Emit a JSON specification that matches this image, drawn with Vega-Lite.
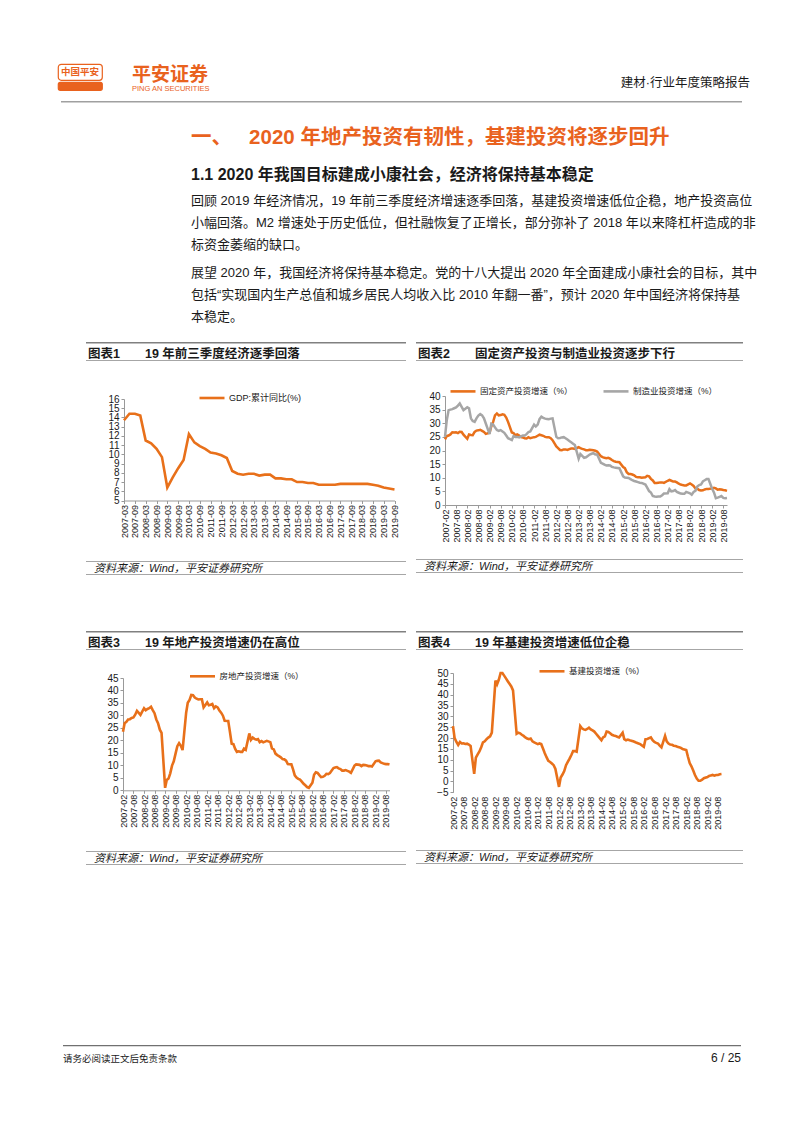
{
"$schema": "https://vega.github.io/schema/vega-lite/v6.json",
"background": "white",
"padding": {"left": 57, "top": 63, "right": 0, "bottom": 0},
"spacing": 0,
"resolve": {"scale": {"color": "independent"}, "legend": {"color": "independent"}},
"config": {
 "view": {"stroke": null},
 "font": "Liberation Sans, Noto Sans CJK SC, sans-serif",
 "concat": {"spacing": 0},
 "title": {"anchor": "start", "frame": "group", "orient": "bottom", "color": "#1a1a1a", "fontWeight": "normal", "offset": 0, "subtitlePadding": 0},
 "axis": {"grid": false, "domainColor": "#999999", "tickColor": "#999999", "tickSize": 3, "labelColor": "#1a1a1a", "labelFont": "Liberation Sans", "labelFlush": false, "labelOverlap": false, "labelBound": false},
 "legend": {"orient": "none", "direction": "horizontal", "symbolType": "stroke", "symbolStrokeWidth": 2.6, "symbolSize": 625, "labelFontSize": 8.5, "labelOffset": 3, "padding": 0, "columnPadding": 25, "labelColor": "#1a1a1a"}
},
"vconcat": [
 {"hconcat": [
   {"vconcat": [
     {"width": 44, "height": 16, "view": {"stroke": "#E9621E", "strokeWidth": 1.2, "fill": "white", "cornerRadius": 3},
      "data": {"values": [{"t": "中国平安"}]},
      "mark": {"type": "text", "color": "#E9621E", "fontSize": 9.5, "fontWeight": "bold", "font": "Noto Sans CJK SC"},
      "encoding": {"text": {"field": "t"}}},
     {"width": 44, "height": 8, "view": {"fill": "#E9621E", "stroke": "#E9621E", "strokeWidth": 1.2, "cornerRadius": 2}, "data": {"values": []}, "mark": "point"}
   ]},
   {"width": 100, "height": 1, "data": {"values": []}, "mark": "point",
    "title": {"text": "平安证券", "subtitle": "PING AN SECURITIES", "fontSize": 19, "fontWeight": "bold", "color": "#E9621E", "subtitleFontSize": 7.5, "subtitleColor": "#E9621E", "dx": 29, "offset": 1, "subtitlePadding": 0}},
   {"width": 540, "height": 1, "data": {"values": []}, "mark": "point",
    "title": {"text": "建材·行业年度策略报告", "anchor": "end", "fontSize": 12.5, "offset": 12, "color": "#1a1a1a"}}
 ]},
 {"width": 1, "height": 8, "data": {"values": []}, "mark": "point"},
 {"hconcat": [
   {"width": 3, "height": 1, "data": {"values": []}, "mark": "point"},
   {"width": 681, "height": 1.5, "view": {"fill": "#a0a0a0"}, "data": {"values": []}, "mark": "point"}
 ]},
 {"width": 680, "height": 1, "data": {"values": []}, "mark": "point",
  "title": {"text": "一、\u00a0\u00a0\u00a02020 年地产投资有韧性，基建投资将逐步回升", "subtitle": "1.1 2020 年我国目标建成小康社会，经济将保持基本稳定", "fontSize": 20.5, "fontWeight": "bold", "color": "#E9621E", "subtitleFontSize": 16, "subtitleFontWeight": "bold", "subtitleColor": "#1a1a1a", "subtitlePadding": 18, "offset": 24, "dx": 133}},
 {"width": 680, "height": 1, "data": {"values": []}, "mark": "point",
  "title": {"text": ["回顾 2019 年经济情况，19 年前三季度经济增速逐季回落，基建投资增速低位企稳，地产投资高位", "小幅回落。M2 增速处于历史低位，但社融恢复了正增长，部分弥补了 2018 年以来降杠杆造成的非", "标资金萎缩的缺口。"], "fontSize": 13, "lineHeight": 22, "offset": 11, "dx": 133, "color": "#1a1a1a"}},
 {"width": 680, "height": 1, "data": {"values": []}, "mark": "point",
  "title": {"text": ["展望 2020 年，我国经济将保持基本稳定。党的十八大提出 2020 年全面建成小康社会的目标，其中", "包括“实现国内生产总值和城乡居民人均收入比 2010 年翻一番”，预计 2020 年中国经济将保持基", "本稳定。"], "fontSize": 13, "lineHeight": 22, "offset": 14, "dx": 133, "color": "#1a1a1a"}},
 {"width": 1, "height": 17.5, "data": {"values": []}, "mark": "point"},
 {"resolve": {"scale": {"color": "independent"}, "legend": {"color": "independent"}},
  "hconcat": [
   {"width": 28, "height": 1, "data": {"values": []}, "mark": "point"},
   {"resolve": {"scale": {"color": "independent"}, "legend": {"color": "independent"}},
    "vconcat": [
     {"width": 320, "height": 1.5, "view": {"fill": "#808080"}, "data": {"values": []}, "mark": "point",
      "title": {"text": "图表1\u3000\u300019 年前三季度经济逐季回落", "fontSize": 12.5, "fontWeight": "bold", "offset": 4, "dx": 2}},
     {"width": 320, "height": 1, "view": {"fill": "#a6a6a6"}, "data": {"values": []}, "mark": "point"},
     {"width": 1, "height": 23, "data": {"values": []}, "mark": "point"},
     {"hconcat": [
      {"width": 1, "height": 1, "data": {"values": []}, "mark": "point"},
      {
       "width": 270.5, "height": 101.5,
       "data": {"values": [{"d":"2007-03","v":13.7},{"d":"2007-06","v":14.4},{"d":"2007-09","v":14.4},{"d":"2007-12","v":14.2},{"d":"2008-03","v":11.5},{"d":"2008-06","v":11.2},{"d":"2008-09","v":10.6},{"d":"2008-12","v":9.7},{"d":"2009-03","v":6.4},{"d":"2009-06","v":7.5},{"d":"2009-09","v":8.5},{"d":"2009-12","v":9.4},{"d":"2010-03","v":12.2},{"d":"2010-06","v":11.3},{"d":"2010-09","v":10.9},{"d":"2010-12","v":10.6},{"d":"2011-03","v":10.2},{"d":"2011-06","v":10.1},{"d":"2011-09","v":9.9},{"d":"2011-12","v":9.6},{"d":"2012-03","v":8.2},{"d":"2012-06","v":7.9},{"d":"2012-09","v":7.8},{"d":"2012-12","v":7.9},{"d":"2013-03","v":7.9},{"d":"2013-06","v":7.7},{"d":"2013-09","v":7.8},{"d":"2013-12","v":7.8},{"d":"2014-03","v":7.4},{"d":"2014-06","v":7.4},{"d":"2014-09","v":7.3},{"d":"2014-12","v":7.3},{"d":"2015-03","v":7.0},{"d":"2015-06","v":7.0},{"d":"2015-09","v":6.9},{"d":"2015-12","v":6.9},{"d":"2016-03","v":6.7},{"d":"2016-06","v":6.7},{"d":"2016-09","v":6.7},{"d":"2016-12","v":6.7},{"d":"2017-03","v":6.8},{"d":"2017-06","v":6.8},{"d":"2017-09","v":6.8},{"d":"2017-12","v":6.8},{"d":"2018-03","v":6.8},{"d":"2018-06","v":6.8},{"d":"2018-09","v":6.7},{"d":"2018-12","v":6.6},{"d":"2019-03","v":6.4},{"d":"2019-06","v":6.3},{"d":"2019-09","v":6.2}]},
       "mark": {"type": "line", "strokeWidth": 2.6},
       "encoding": {
         "x": {"field": "d", "type": "temporal", "axis": {"title": null, "values": [{"year":2007,"month":3},{"year":2007,"month":9},{"year":2008,"month":3},{"year":2008,"month":9},{"year":2009,"month":3},{"year":2009,"month":9},{"year":2010,"month":3},{"year":2010,"month":9},{"year":2011,"month":3},{"year":2011,"month":9},{"year":2012,"month":3},{"year":2012,"month":9},{"year":2013,"month":3},{"year":2013,"month":9},{"year":2014,"month":3},{"year":2014,"month":9},{"year":2015,"month":3},{"year":2015,"month":9},{"year":2016,"month":3},{"year":2016,"month":9},{"year":2017,"month":3},{"year":2017,"month":9},{"year":2018,"month":3},{"year":2018,"month":9},{"year":2019,"month":3},{"year":2019,"month":9}], "format": "%Y-%m", "labelAngle": -90, "labelFontSize": 9, "labelPadding": 1, "minExtent": 60, "maxExtent": 60}},
         "y": {"field": "v", "type": "quantitative", "scale": {"domain": [5, 16], "nice": false, "zero": false}, "axis": {"title": null, "values": [5,6,7,8,9,10,11,12,13,14,15,16], "labelFontSize": 10, "labelPadding": 2, "minExtent": 37, "maxExtent": 37}},
         "color": {"datum": "GDP:累计同比(%)", "scale": {"range": ["#E8701A"]}, "legend": {"title": null, "legendX": 112, "legendY": -15, "labelFontSize": 9}}
       }
      }]},
     {"width": 320, "height": 1, "view": {"fill": "#a6a6a6"}, "data": {"values": []}, "mark": "point",
      "title": {"text": "资料来源：Wind，平安证券研究所", "fontSize": 11, "fontStyle": "italic", "offset": 1, "dx": 8}},
     {"width": 320, "height": 1, "view": {"fill": "#a6a6a6"}, "data": {"values": []}, "mark": "point"}
   ]},
   {"width": 10, "height": 1, "data": {"values": []}, "mark": "point"},
   {"resolve": {"scale": {"color": "independent"}, "legend": {"color": "independent"}},
    "vconcat": [
     {"width": 327, "height": 1.5, "view": {"fill": "#808080"}, "data": {"values": []}, "mark": "point",
      "title": {"text": "图表2\u3000\u3000固定资产投资与制造业投资逐步下行", "fontSize": 12.5, "fontWeight": "bold", "offset": 4, "dx": 2}},
     {"width": 327, "height": 1, "view": {"fill": "#a6a6a6"}, "data": {"values": []}, "mark": "point"},
     {"width": 1, "height": 16, "data": {"values": []}, "mark": "point"},
     {"hconcat": [
      {"width": 1, "height": 1, "data": {"values": []}, "mark": "point"},
      {
       "width": 282, "height": 109,
       "encoding": {
         "x": {"field": "d", "type": "temporal", "axis": {"title": null, "values": [{"year":2007,"month":2},{"year":2007,"month":8},{"year":2008,"month":2},{"year":2008,"month":8},{"year":2009,"month":2},{"year":2009,"month":8},{"year":2010,"month":2},{"year":2010,"month":8},{"year":2011,"month":2},{"year":2011,"month":8},{"year":2012,"month":2},{"year":2012,"month":8},{"year":2013,"month":2},{"year":2013,"month":8},{"year":2014,"month":2},{"year":2014,"month":8},{"year":2015,"month":2},{"year":2015,"month":8},{"year":2016,"month":2},{"year":2016,"month":8},{"year":2017,"month":2},{"year":2017,"month":8},{"year":2018,"month":2},{"year":2018,"month":8},{"year":2019,"month":2},{"year":2019,"month":8}], "format": "%Y-%m", "labelAngle": -90, "labelFontSize": 9, "labelPadding": 1, "minExtent": 54, "maxExtent": 54}},
         "y": {"field": "v", "type": "quantitative", "scale": {"domain": [0, 40], "nice": false}, "axis": {"title": null, "values": [0,5,10,15,20,25,30,35,40], "labelFontSize": 10, "labelPadding": 2, "minExtent": 28, "maxExtent": 28}}
       },
       "layer": [
         {"data": {"values": [{"d":"2007-02","v":24.1},{"d":"2007-03","v":25.3},{"d":"2007-04","v":25.5},{"d":"2007-05","v":25.9},{"d":"2007-06","v":26.7},{"d":"2007-07","v":26.6},{"d":"2007-08","v":26.7},{"d":"2007-09","v":26.4},{"d":"2007-10","v":26.9},{"d":"2007-11","v":26.8},{"d":"2007-12","v":25.8},{"d":"2008-02","v":24.3},{"d":"2008-03","v":25.9},{"d":"2008-04","v":25.7},{"d":"2008-05","v":25.6},{"d":"2008-06","v":26.8},{"d":"2008-07","v":27.3},{"d":"2008-08","v":27.4},{"d":"2008-09","v":27.6},{"d":"2008-10","v":27.2},{"d":"2008-11","v":26.8},{"d":"2008-12","v":26.1},{"d":"2009-02","v":26.5},{"d":"2009-03","v":28.8},{"d":"2009-04","v":30.5},{"d":"2009-05","v":32.9},{"d":"2009-06","v":33.6},{"d":"2009-07","v":32.9},{"d":"2009-08","v":33.0},{"d":"2009-09","v":33.3},{"d":"2009-10","v":33.1},{"d":"2009-11","v":32.1},{"d":"2009-12","v":30.5},{"d":"2010-02","v":26.6},{"d":"2010-03","v":26.4},{"d":"2010-04","v":25.6},{"d":"2010-05","v":25.9},{"d":"2010-06","v":25.5},{"d":"2010-07","v":24.9},{"d":"2010-08","v":24.8},{"d":"2010-09","v":24.5},{"d":"2010-10","v":24.4},{"d":"2010-11","v":24.9},{"d":"2010-12","v":24.5},{"d":"2011-02","v":24.9},{"d":"2011-03","v":25.0},{"d":"2011-04","v":25.4},{"d":"2011-05","v":25.8},{"d":"2011-06","v":25.6},{"d":"2011-07","v":25.4},{"d":"2011-08","v":25.0},{"d":"2011-09","v":24.9},{"d":"2011-10","v":24.9},{"d":"2011-11","v":24.5},{"d":"2011-12","v":23.8},{"d":"2012-02","v":21.5},{"d":"2012-03","v":20.9},{"d":"2012-04","v":20.2},{"d":"2012-05","v":20.1},{"d":"2012-06","v":20.4},{"d":"2012-07","v":20.4},{"d":"2012-08","v":20.2},{"d":"2012-09","v":20.5},{"d":"2012-10","v":20.7},{"d":"2012-11","v":20.7},{"d":"2012-12","v":20.6},{"d":"2013-02","v":21.2},{"d":"2013-03","v":20.9},{"d":"2013-04","v":20.6},{"d":"2013-05","v":20.4},{"d":"2013-06","v":20.1},{"d":"2013-07","v":20.1},{"d":"2013-08","v":20.3},{"d":"2013-09","v":20.2},{"d":"2013-10","v":20.1},{"d":"2013-11","v":19.9},{"d":"2013-12","v":19.6},{"d":"2014-02","v":17.9},{"d":"2014-03","v":17.6},{"d":"2014-04","v":17.3},{"d":"2014-05","v":17.2},{"d":"2014-06","v":17.3},{"d":"2014-07","v":17.0},{"d":"2014-08","v":16.5},{"d":"2014-09","v":16.1},{"d":"2014-10","v":15.9},{"d":"2014-11","v":15.8},{"d":"2014-12","v":15.7},{"d":"2015-02","v":13.9},{"d":"2015-03","v":13.5},{"d":"2015-04","v":12.0},{"d":"2015-05","v":11.4},{"d":"2015-06","v":11.4},{"d":"2015-07","v":11.2},{"d":"2015-08","v":10.9},{"d":"2015-09","v":10.3},{"d":"2015-10","v":10.2},{"d":"2015-11","v":10.2},{"d":"2015-12","v":10.0},{"d":"2016-02","v":10.2},{"d":"2016-03","v":10.7},{"d":"2016-04","v":10.5},{"d":"2016-05","v":9.6},{"d":"2016-06","v":9.0},{"d":"2016-07","v":8.1},{"d":"2016-08","v":8.1},{"d":"2016-09","v":8.2},{"d":"2016-10","v":8.3},{"d":"2016-11","v":8.3},{"d":"2016-12","v":8.1},{"d":"2017-02","v":8.9},{"d":"2017-03","v":9.2},{"d":"2017-04","v":8.9},{"d":"2017-05","v":8.6},{"d":"2017-06","v":8.6},{"d":"2017-07","v":8.3},{"d":"2017-08","v":7.8},{"d":"2017-09","v":7.5},{"d":"2017-10","v":7.3},{"d":"2017-11","v":7.2},{"d":"2017-12","v":7.2},{"d":"2018-02","v":7.9},{"d":"2018-03","v":7.5},{"d":"2018-04","v":7.0},{"d":"2018-05","v":6.1},{"d":"2018-06","v":6.0},{"d":"2018-07","v":5.5},{"d":"2018-08","v":5.3},{"d":"2018-09","v":5.4},{"d":"2018-10","v":5.7},{"d":"2018-11","v":5.9},{"d":"2018-12","v":5.9},{"d":"2019-02","v":6.1},{"d":"2019-03","v":6.3},{"d":"2019-04","v":6.1},{"d":"2019-05","v":5.6},{"d":"2019-06","v":5.8},{"d":"2019-07","v":5.7},{"d":"2019-08","v":5.5},{"d":"2019-09","v":5.4},{"d":"2019-10","v":5.2}]},
          "mark": {"type": "line", "strokeWidth": 2.5},
          "encoding": {"color": {"datum": "固定资产投资增速（%）", "scale": {"domain": ["固定资产投资增速（%）", "制造业投资增速（%）"], "range": ["#E8701A", "#A6A6A6"]}, "legend": {"title": null, "legendX": 33, "legendY": -19}}}},
         {"data": {"values": [{"d":"2007-02","v":25.0},{"d":"2007-03","v":31.0},{"d":"2007-04","v":34.8},{"d":"2007-05","v":35.0},{"d":"2007-06","v":35.2},{"d":"2007-07","v":35.5},{"d":"2007-08","v":35.8},{"d":"2007-09","v":36.5},{"d":"2007-10","v":37.3},{"d":"2007-11","v":36.0},{"d":"2007-12","v":34.8},{"d":"2008-02","v":35.9},{"d":"2008-03","v":35.5},{"d":"2008-04","v":31.8},{"d":"2008-05","v":30.8},{"d":"2008-06","v":30.5},{"d":"2008-07","v":31.8},{"d":"2008-08","v":32.8},{"d":"2008-09","v":33.4},{"d":"2008-10","v":32.9},{"d":"2008-11","v":31.8},{"d":"2008-12","v":29.9},{"d":"2009-02","v":26.0},{"d":"2009-03","v":29.8},{"d":"2009-04","v":29.5},{"d":"2009-05","v":28.5},{"d":"2009-06","v":27.5},{"d":"2009-07","v":27.2},{"d":"2009-08","v":27.5},{"d":"2009-09","v":27.0},{"d":"2009-10","v":26.5},{"d":"2009-11","v":25.5},{"d":"2009-12","v":24.5},{"d":"2010-02","v":23.8},{"d":"2010-03","v":25.3},{"d":"2010-04","v":25.0},{"d":"2010-05","v":25.0},{"d":"2010-06","v":24.8},{"d":"2010-07","v":25.2},{"d":"2010-08","v":25.5},{"d":"2010-09","v":25.5},{"d":"2010-10","v":26.0},{"d":"2010-11","v":26.8},{"d":"2010-12","v":27.0},{"d":"2011-02","v":29.5},{"d":"2011-03","v":28.8},{"d":"2011-04","v":29.5},{"d":"2011-05","v":31.5},{"d":"2011-06","v":32.4},{"d":"2011-07","v":32.0},{"d":"2011-08","v":31.7},{"d":"2011-09","v":31.6},{"d":"2011-10","v":31.5},{"d":"2011-11","v":31.7},{"d":"2011-12","v":31.8},{"d":"2012-02","v":25.0},{"d":"2012-03","v":24.5},{"d":"2012-04","v":24.6},{"d":"2012-05","v":24.8},{"d":"2012-06","v":24.9},{"d":"2012-07","v":24.5},{"d":"2012-08","v":24.0},{"d":"2012-09","v":23.5},{"d":"2012-10","v":23.0},{"d":"2012-11","v":22.5},{"d":"2012-12","v":22.0},{"d":"2013-02","v":17.0},{"d":"2013-03","v":18.7},{"d":"2013-04","v":18.0},{"d":"2013-05","v":17.3},{"d":"2013-06","v":17.5},{"d":"2013-07","v":18.0},{"d":"2013-08","v":18.5},{"d":"2013-09","v":18.8},{"d":"2013-10","v":19.0},{"d":"2013-11","v":18.5},{"d":"2013-12","v":18.5},{"d":"2014-02","v":15.5},{"d":"2014-03","v":15.2},{"d":"2014-04","v":14.8},{"d":"2014-05","v":14.5},{"d":"2014-06","v":14.6},{"d":"2014-07","v":14.5},{"d":"2014-08","v":14.0},{"d":"2014-09","v":13.8},{"d":"2014-10","v":13.7},{"d":"2014-11","v":13.6},{"d":"2014-12","v":13.5},{"d":"2015-02","v":10.5},{"d":"2015-03","v":10.1},{"d":"2015-04","v":10.0},{"d":"2015-05","v":9.9},{"d":"2015-06","v":9.5},{"d":"2015-07","v":9.1},{"d":"2015-08","v":8.8},{"d":"2015-09","v":8.6},{"d":"2015-10","v":8.4},{"d":"2015-11","v":8.2},{"d":"2015-12","v":8.1},{"d":"2016-02","v":7.5},{"d":"2016-03","v":6.4},{"d":"2016-04","v":5.1},{"d":"2016-05","v":4.6},{"d":"2016-06","v":3.3},{"d":"2016-07","v":3.1},{"d":"2016-08","v":3.0},{"d":"2016-09","v":3.1},{"d":"2016-10","v":3.1},{"d":"2016-11","v":3.6},{"d":"2016-12","v":4.2},{"d":"2017-02","v":4.3},{"d":"2017-03","v":5.8},{"d":"2017-04","v":5.0},{"d":"2017-05","v":5.1},{"d":"2017-06","v":5.5},{"d":"2017-07","v":4.8},{"d":"2017-08","v":4.5},{"d":"2017-09","v":4.2},{"d":"2017-10","v":4.1},{"d":"2017-11","v":4.1},{"d":"2017-12","v":4.8},{"d":"2018-02","v":4.3},{"d":"2018-03","v":3.8},{"d":"2018-04","v":4.8},{"d":"2018-05","v":5.2},{"d":"2018-06","v":6.8},{"d":"2018-07","v":7.3},{"d":"2018-08","v":7.5},{"d":"2018-09","v":8.7},{"d":"2018-10","v":9.1},{"d":"2018-11","v":9.5},{"d":"2018-12","v":9.5},{"d":"2019-02","v":5.9},{"d":"2019-03","v":4.6},{"d":"2019-04","v":2.5},{"d":"2019-05","v":2.7},{"d":"2019-06","v":3.0},{"d":"2019-07","v":3.3},{"d":"2019-08","v":2.6},{"d":"2019-09","v":2.5},{"d":"2019-10","v":2.6}]},
          "mark": {"type": "line", "strokeWidth": 2.5},
          "encoding": {"color": {"datum": "制造业投资增速（%）", "legend": {"title": null, "legendX": 33, "legendY": -19}}}}
       ]
      }]},
     {"width": 327, "height": 1, "view": {"fill": "#a6a6a6"}, "data": {"values": []}, "mark": "point",
      "title": {"text": "资料来源：Wind，平安证券研究所", "fontSize": 11, "fontStyle": "italic", "offset": 1, "dx": 8}},
     {"width": 327, "height": 1, "view": {"fill": "#a6a6a6"}, "data": {"values": []}, "mark": "point"}
   ]}
 ]},
 {"width": 1, "height": 55.5, "data": {"values": []}, "mark": "point"},
 {"resolve": {"scale": {"color": "independent"}, "legend": {"color": "independent"}},
  "hconcat": [
   {"width": 28, "height": 1, "data": {"values": []}, "mark": "point"},
   {"resolve": {"scale": {"color": "independent"}, "legend": {"color": "independent"}},
    "vconcat": [
     {"width": 320, "height": 1.5, "view": {"fill": "#808080"}, "data": {"values": []}, "mark": "point",
      "title": {"text": "图表3\u3000\u300019 年地产投资增速仍在高位", "fontSize": 12.5, "fontWeight": "bold", "offset": 4, "dx": 2}},
     {"width": 320, "height": 1, "view": {"fill": "#a6a6a6"}, "data": {"values": []}, "mark": "point"},
     {"width": 1, "height": 11.1, "data": {"values": []}, "mark": "point"},
     {"hconcat": [
      {"width": 1, "height": 1, "data": {"values": []}, "mark": "point"},
      {
       "width": 266.5, "height": 112.3,
       "data": {"values": [{"d":"2007-02","v":23.5},{"d":"2007-03","v":26.9},{"d":"2007-04","v":27.4},{"d":"2007-05","v":28.4},{"d":"2007-06","v":28.5},{"d":"2007-07","v":29.0},{"d":"2007-08","v":29.2},{"d":"2007-09","v":30.3},{"d":"2007-10","v":31.8},{"d":"2007-11","v":31.0},{"d":"2007-12","v":30.2},{"d":"2008-02","v":32.9},{"d":"2008-03","v":32.1},{"d":"2008-04","v":32.6},{"d":"2008-05","v":32.9},{"d":"2008-06","v":33.5},{"d":"2008-07","v":32.1},{"d":"2008-08","v":30.9},{"d":"2008-09","v":28.4},{"d":"2008-10","v":26.9},{"d":"2008-11","v":24.3},{"d":"2008-12","v":23.0},{"d":"2009-02","v":1.0},{"d":"2009-03","v":4.1},{"d":"2009-04","v":4.7},{"d":"2009-05","v":6.8},{"d":"2009-06","v":9.9},{"d":"2009-07","v":11.6},{"d":"2009-08","v":14.7},{"d":"2009-09","v":17.7},{"d":"2009-10","v":18.9},{"d":"2009-11","v":17.8},{"d":"2009-12","v":16.1},{"d":"2010-02","v":31.1},{"d":"2010-03","v":35.1},{"d":"2010-04","v":36.2},{"d":"2010-05","v":38.2},{"d":"2010-06","v":38.1},{"d":"2010-07","v":37.2},{"d":"2010-08","v":36.7},{"d":"2010-09","v":36.4},{"d":"2010-10","v":36.5},{"d":"2010-11","v":36.5},{"d":"2010-12","v":33.2},{"d":"2011-02","v":35.2},{"d":"2011-03","v":34.1},{"d":"2011-04","v":34.3},{"d":"2011-05","v":34.6},{"d":"2011-06","v":32.9},{"d":"2011-07","v":33.6},{"d":"2011-08","v":33.2},{"d":"2011-09","v":32.0},{"d":"2011-10","v":31.1},{"d":"2011-11","v":29.9},{"d":"2011-12","v":27.9},{"d":"2012-02","v":27.8},{"d":"2012-03","v":23.5},{"d":"2012-04","v":18.7},{"d":"2012-05","v":18.5},{"d":"2012-06","v":16.6},{"d":"2012-07","v":15.4},{"d":"2012-08","v":15.6},{"d":"2012-09","v":15.4},{"d":"2012-10","v":15.4},{"d":"2012-11","v":16.7},{"d":"2012-12","v":16.2},{"d":"2013-02","v":22.8},{"d":"2013-03","v":20.2},{"d":"2013-04","v":21.1},{"d":"2013-05","v":20.6},{"d":"2013-06","v":20.3},{"d":"2013-07","v":20.5},{"d":"2013-08","v":19.3},{"d":"2013-09","v":19.7},{"d":"2013-10","v":19.2},{"d":"2013-11","v":19.5},{"d":"2013-12","v":19.8},{"d":"2014-02","v":19.3},{"d":"2014-03","v":16.8},{"d":"2014-04","v":16.4},{"d":"2014-05","v":14.7},{"d":"2014-06","v":14.1},{"d":"2014-07","v":13.7},{"d":"2014-08","v":13.2},{"d":"2014-09","v":12.5},{"d":"2014-10","v":12.4},{"d":"2014-11","v":11.9},{"d":"2014-12","v":10.5},{"d":"2015-02","v":10.4},{"d":"2015-03","v":8.5},{"d":"2015-04","v":6.0},{"d":"2015-05","v":5.1},{"d":"2015-06","v":4.6},{"d":"2015-07","v":4.3},{"d":"2015-08","v":3.5},{"d":"2015-09","v":2.6},{"d":"2015-10","v":2.0},{"d":"2015-11","v":1.3},{"d":"2015-12","v":1.0},{"d":"2016-02","v":3.0},{"d":"2016-03","v":6.2},{"d":"2016-04","v":7.2},{"d":"2016-05","v":7.0},{"d":"2016-06","v":6.1},{"d":"2016-07","v":5.3},{"d":"2016-08","v":5.4},{"d":"2016-09","v":5.8},{"d":"2016-10","v":6.6},{"d":"2016-11","v":6.5},{"d":"2016-12","v":6.9},{"d":"2017-02","v":8.9},{"d":"2017-03","v":9.1},{"d":"2017-04","v":9.3},{"d":"2017-05","v":8.8},{"d":"2017-06","v":8.5},{"d":"2017-07","v":7.9},{"d":"2017-08","v":7.9},{"d":"2017-09","v":8.1},{"d":"2017-10","v":7.8},{"d":"2017-11","v":7.5},{"d":"2017-12","v":7.0},{"d":"2018-02","v":9.9},{"d":"2018-03","v":10.4},{"d":"2018-04","v":10.3},{"d":"2018-05","v":10.2},{"d":"2018-06","v":9.7},{"d":"2018-07","v":10.2},{"d":"2018-08","v":10.1},{"d":"2018-09","v":9.9},{"d":"2018-10","v":9.7},{"d":"2018-11","v":9.7},{"d":"2018-12","v":9.5},{"d":"2019-02","v":11.6},{"d":"2019-03","v":11.8},{"d":"2019-04","v":11.9},{"d":"2019-05","v":11.2},{"d":"2019-06","v":10.9},{"d":"2019-07","v":10.6},{"d":"2019-08","v":10.5},{"d":"2019-09","v":10.5},{"d":"2019-10","v":10.3}]},
       "mark": {"type": "line", "strokeWidth": 2.6},
       "encoding": {
         "x": {"field": "d", "type": "temporal", "axis": {"title": null, "values": [{"year":2007,"month":2},{"year":2007,"month":8},{"year":2008,"month":2},{"year":2008,"month":8},{"year":2009,"month":2},{"year":2009,"month":8},{"year":2010,"month":2},{"year":2010,"month":8},{"year":2011,"month":2},{"year":2011,"month":8},{"year":2012,"month":2},{"year":2012,"month":8},{"year":2013,"month":2},{"year":2013,"month":8},{"year":2014,"month":2},{"year":2014,"month":8},{"year":2015,"month":2},{"year":2015,"month":8},{"year":2016,"month":2},{"year":2016,"month":8},{"year":2017,"month":2},{"year":2017,"month":8},{"year":2018,"month":2},{"year":2018,"month":8},{"year":2019,"month":2},{"year":2019,"month":8}], "format": "%Y-%m", "labelAngle": -90, "labelFontSize": 9, "labelPadding": 1, "minExtent": 60, "maxExtent": 60}},
         "y": {"field": "v", "type": "quantitative", "scale": {"domain": [0, 45], "nice": false}, "axis": {"title": null, "values": [0,5,10,15,20,25,30,35,40,45], "labelFontSize": 10, "labelPadding": 2, "minExtent": 36, "maxExtent": 36}},
         "color": {"datum": "房地产投资增速（%）", "scale": {"range": ["#E8701A"]}, "legend": {"title": null, "legendX": 102.5, "legendY": -15.7}}
       }
      }]},
     {"width": 320, "height": 1, "view": {"fill": "#a6a6a6"}, "data": {"values": []}, "mark": "point",
      "title": {"text": "资料来源：Wind，平安证券研究所", "fontSize": 11, "fontStyle": "italic", "offset": 1, "dx": 8}},
     {"width": 320, "height": 1, "view": {"fill": "#a6a6a6"}, "data": {"values": []}, "mark": "point"}
   ]},
   {"width": 10, "height": 1, "data": {"values": []}, "mark": "point"},
   {"resolve": {"scale": {"color": "independent"}, "legend": {"color": "independent"}},
    "vconcat": [
     {"width": 327, "height": 1.5, "view": {"fill": "#808080"}, "data": {"values": []}, "mark": "point",
      "title": {"text": "图表4\u3000\u300019 年基建投资增速低位企稳", "fontSize": 12.5, "fontWeight": "bold", "offset": 4, "dx": 2}},
     {"width": 327, "height": 1, "view": {"fill": "#a6a6a6"}, "data": {"values": []}, "mark": "point"},
     {"width": 1, "height": 6.6, "data": {"values": []}, "mark": "point"},
     {"hconcat": [
      {"width": 1, "height": 1, "data": {"values": []}, "mark": "point"},
      {
       "width": 268.5, "height": 119.3,
       "encoding": {
         "x": {"field": "d", "type": "temporal", "axis": {"title": null, "values": [{"year":2007,"month":2},{"year":2007,"month":8},{"year":2008,"month":2},{"year":2008,"month":8},{"year":2009,"month":2},{"year":2009,"month":8},{"year":2010,"month":2},{"year":2010,"month":8},{"year":2011,"month":2},{"year":2011,"month":8},{"year":2012,"month":2},{"year":2012,"month":8},{"year":2013,"month":2},{"year":2013,"month":8},{"year":2014,"month":2},{"year":2014,"month":8},{"year":2015,"month":2},{"year":2015,"month":8},{"year":2016,"month":2},{"year":2016,"month":8},{"year":2017,"month":2},{"year":2017,"month":8},{"year":2018,"month":2},{"year":2018,"month":8},{"year":2019,"month":2},{"year":2019,"month":8}], "format": "%Y-%m", "labelAngle": -90, "labelFontSize": 9, "labelPadding": 4, "domain": false, "ticks": false, "minExtent": 57.5, "maxExtent": 57.5}},
         "y": {"field": "v", "type": "quantitative", "scale": {"domain": [-5, 50], "nice": false, "zero": false}, "axis": {"title": null, "values": [-5,0,5,10,15,20,25,30,35,40,45,50], "labelFontSize": 10, "labelPadding": 2, "minExtent": 36, "maxExtent": 36}}
       },
       "layer": [
         {"data": {"values": [{}]}, "mark": {"type": "rule", "color": "#999999", "strokeWidth": 1}, "encoding": {"y": {"datum": 0}, "x": null}},
         {"data": {"values": [{"d":"2007-02","v":25.5},{"d":"2007-03","v":20.0},{"d":"2007-04","v":18.2},{"d":"2007-05","v":16.8},{"d":"2007-06","v":18.2},{"d":"2007-07","v":17.5},{"d":"2007-08","v":17.6},{"d":"2007-09","v":17.3},{"d":"2007-10","v":17.4},{"d":"2007-11","v":17.0},{"d":"2007-12","v":16.4},{"d":"2008-02","v":3.5},{"d":"2008-03","v":11.0},{"d":"2008-04","v":12.5},{"d":"2008-05","v":13.8},{"d":"2008-06","v":15.8},{"d":"2008-07","v":18.0},{"d":"2008-08","v":18.5},{"d":"2008-09","v":19.5},{"d":"2008-10","v":20.2},{"d":"2008-11","v":20.8},{"d":"2008-12","v":22.5},{"d":"2009-02","v":46.5},{"d":"2009-03","v":44.8},{"d":"2009-04","v":47.0},{"d":"2009-05","v":50.0},{"d":"2009-06","v":50.0},{"d":"2009-07","v":48.8},{"d":"2009-08","v":47.5},{"d":"2009-09","v":46.2},{"d":"2009-10","v":45.0},{"d":"2009-11","v":43.8},{"d":"2009-12","v":42.0},{"d":"2010-02","v":22.0},{"d":"2010-03","v":22.5},{"d":"2010-04","v":22.2},{"d":"2010-05","v":21.5},{"d":"2010-06","v":21.0},{"d":"2010-07","v":20.3},{"d":"2010-08","v":19.8},{"d":"2010-09","v":19.5},{"d":"2010-10","v":19.8},{"d":"2010-11","v":18.5},{"d":"2010-12","v":18.0},{"d":"2011-02","v":17.2},{"d":"2011-03","v":17.5},{"d":"2011-04","v":17.2},{"d":"2011-05","v":15.2},{"d":"2011-06","v":13.0},{"d":"2011-07","v":11.2},{"d":"2011-08","v":9.5},{"d":"2011-09","v":9.0},{"d":"2011-10","v":8.3},{"d":"2011-11","v":7.5},{"d":"2011-12","v":5.8},{"d":"2012-02","v":-2.5},{"d":"2012-03","v":1.8},{"d":"2012-04","v":3.2},{"d":"2012-05","v":4.8},{"d":"2012-06","v":7.5},{"d":"2012-07","v":9.0},{"d":"2012-08","v":10.5},{"d":"2012-09","v":12.2},{"d":"2012-10","v":14.0},{"d":"2012-11","v":14.0},{"d":"2012-12","v":13.7},{"d":"2013-02","v":25.5},{"d":"2013-03","v":24.5},{"d":"2013-04","v":24.0},{"d":"2013-05","v":23.8},{"d":"2013-06","v":24.2},{"d":"2013-07","v":24.8},{"d":"2013-08","v":24.0},{"d":"2013-09","v":23.5},{"d":"2013-10","v":23.0},{"d":"2013-11","v":22.0},{"d":"2013-12","v":21.0},{"d":"2014-02","v":19.0},{"d":"2014-03","v":20.3},{"d":"2014-04","v":20.8},{"d":"2014-05","v":23.0},{"d":"2014-06","v":22.8},{"d":"2014-07","v":22.2},{"d":"2014-08","v":21.5},{"d":"2014-09","v":21.2},{"d":"2014-10","v":21.0},{"d":"2014-11","v":20.6},{"d":"2014-12","v":20.3},{"d":"2015-02","v":22.5},{"d":"2015-03","v":19.5},{"d":"2015-04","v":19.0},{"d":"2015-05","v":19.3},{"d":"2015-06","v":19.0},{"d":"2015-07","v":18.8},{"d":"2015-08","v":18.5},{"d":"2015-09","v":18.2},{"d":"2015-10","v":17.8},{"d":"2015-11","v":17.5},{"d":"2015-12","v":17.2},{"d":"2016-02","v":16.0},{"d":"2016-03","v":19.5},{"d":"2016-04","v":19.6},{"d":"2016-05","v":20.0},{"d":"2016-06","v":20.3},{"d":"2016-07","v":19.0},{"d":"2016-08","v":18.2},{"d":"2016-09","v":17.8},{"d":"2016-10","v":17.5},{"d":"2016-11","v":16.5},{"d":"2016-12","v":15.7},{"d":"2017-02","v":21.0},{"d":"2017-03","v":18.5},{"d":"2017-04","v":17.5},{"d":"2017-05","v":17.0},{"d":"2017-06","v":16.9},{"d":"2017-07","v":16.5},{"d":"2017-08","v":16.3},{"d":"2017-09","v":16.0},{"d":"2017-10","v":15.8},{"d":"2017-11","v":15.5},{"d":"2017-12","v":14.9},{"d":"2018-02","v":14.5},{"d":"2018-03","v":11.5},{"d":"2018-04","v":8.5},{"d":"2018-05","v":7.0},{"d":"2018-06","v":5.0},{"d":"2018-07","v":3.0},{"d":"2018-08","v":1.3},{"d":"2018-09","v":0.3},{"d":"2018-10","v":0.3},{"d":"2018-11","v":0.8},{"d":"2018-12","v":1.5},{"d":"2019-02","v":2.0},{"d":"2019-03","v":2.5},{"d":"2019-04","v":2.8},{"d":"2019-05","v":3.0},{"d":"2019-06","v":2.7},{"d":"2019-07","v":3.0},{"d":"2019-08","v":3.0},{"d":"2019-09","v":3.3},{"d":"2019-10","v":3.4}]},
          "mark": {"type": "line", "strokeWidth": 2.6},
          "encoding": {"color": {"datum": "基建投资增速（%）", "scale": {"range": ["#E8701A"]}, "legend": {"title": null, "legendX": 122, "legendY": -15.7}}}}
       ]
      }]},
     {"width": 327, "height": 1, "view": {"fill": "#a6a6a6"}, "data": {"values": []}, "mark": "point",
      "title": {"text": "资料来源：Wind，平安证券研究所", "fontSize": 11, "fontStyle": "italic", "offset": 1, "dx": 8}},
     {"width": 327, "height": 1, "view": {"fill": "#a6a6a6"}, "data": {"values": []}, "mark": "point"}
   ]}
 ]},
 {"width": 1, "height": 179.3, "data": {"values": []}, "mark": "point"},
 {"hconcat": [
   {"width": 5, "height": 1, "data": {"values": []}, "mark": "point"},
   {"width": 340, "height": 1.2, "view": {"fill": "#707070"}, "data": {"values": []}, "mark": "point",
    "title": {"text": "请务必阅读正文后免责条款", "fontSize": 9.5, "offset": 8}},
   {"width": 338, "height": 1.2, "view": {"fill": "#707070"}, "data": {"values": []}, "mark": "point",
    "title": {"text": "6 / 25", "anchor": "end", "fontSize": 12, "offset": 7}}
 ]}
]
}
